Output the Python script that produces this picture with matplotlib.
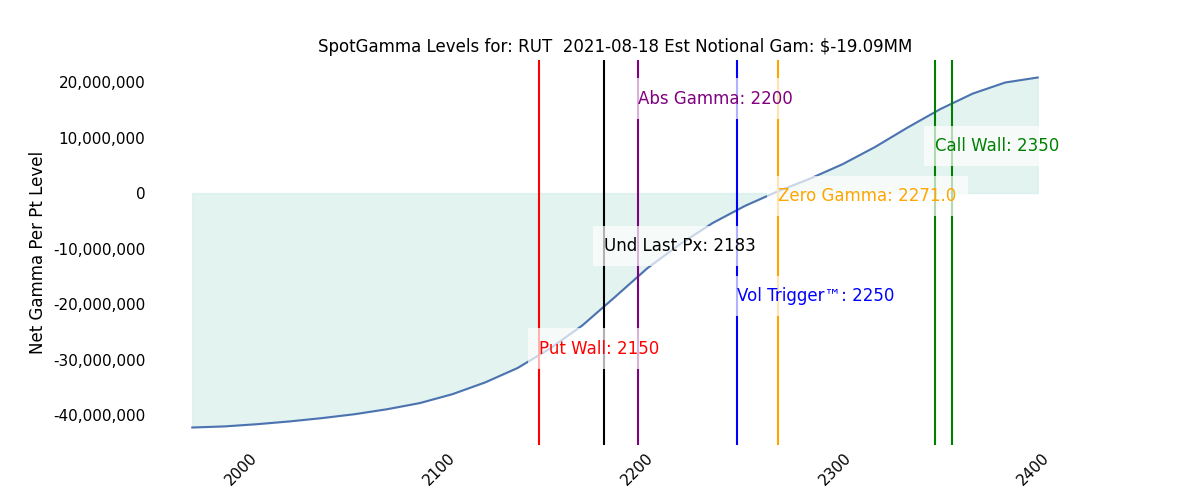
import matplotlib
matplotlib.use("Agg")
import matplotlib.pyplot as plt
import numpy as np

strikes = np.linspace(1975, 2402, 27)
gamma_mm = [-42.2, -42.0, -41.6, -41.1, -40.5, -39.8, -38.9, -37.8, -36.2, -34.1,
            -31.5, -28.0, -23.8, -18.7, -13.5, -9.2, -5.4, -2.3, 0.3, 2.6,
            5.2, 8.3, 11.8, 15.1, 17.9, 19.9, 20.8]
gamma = np.array(gamma_mm) * 1e6

levels = [
    ("Put Wall: 2150", 2150, "red", -28e6),
    ("Und Last Px: 2183", 2183, "black", -9.5e6),
    ("Abs Gamma: 2200", 2200, "purple", 17e6),
    ("Vol Trigger\u2122: 2250", 2250, "blue", -18.5e6),
    ("Zero Gamma: 2271.0", 2271.0, "orange", -0.5e6),
    ("Call Wall: 2350", 2350, "green", 8.5e6),
]
extra_green = 2358.5

fig, ax = plt.subplots(figsize=(12, 5), dpi=100)
ax.plot(strikes, gamma, color="#4c72b0", lw=1.5)
ax.fill_between(strikes, gamma, 0, color="#d0ece7", alpha=0.6)
for label, x, c, ty in levels:
    ax.axvline(x, color=c, lw=1.5)
    ax.text(x, ty, label, color=c, fontsize=12, va="center", ha="left", zorder=5,
            bbox=dict(facecolor="white", edgecolor="none", alpha=0.7, pad=8))
ax.axvline(extra_green, color="green", lw=1.5)

for s in ax.spines.values():
    s.set_visible(False)
ax.tick_params(length=0, labelsize=11)
ax.set_xticks([2000, 2100, 2200, 2300, 2400])
plt.setp(ax.get_xticklabels(), rotation=45)
ax.yaxis.set_major_formatter(matplotlib.ticker.FuncFormatter(lambda v, p: f"{v:,.0f}"))
ax.set_ylabel("Net Gamma Per Pt Level", fontsize=12)
ax.set_title("SpotGamma Levels for: RUT  2021-08-18 Est Notional Gam: $-19.09MM", fontsize=12)
fig.savefig("out.png")
